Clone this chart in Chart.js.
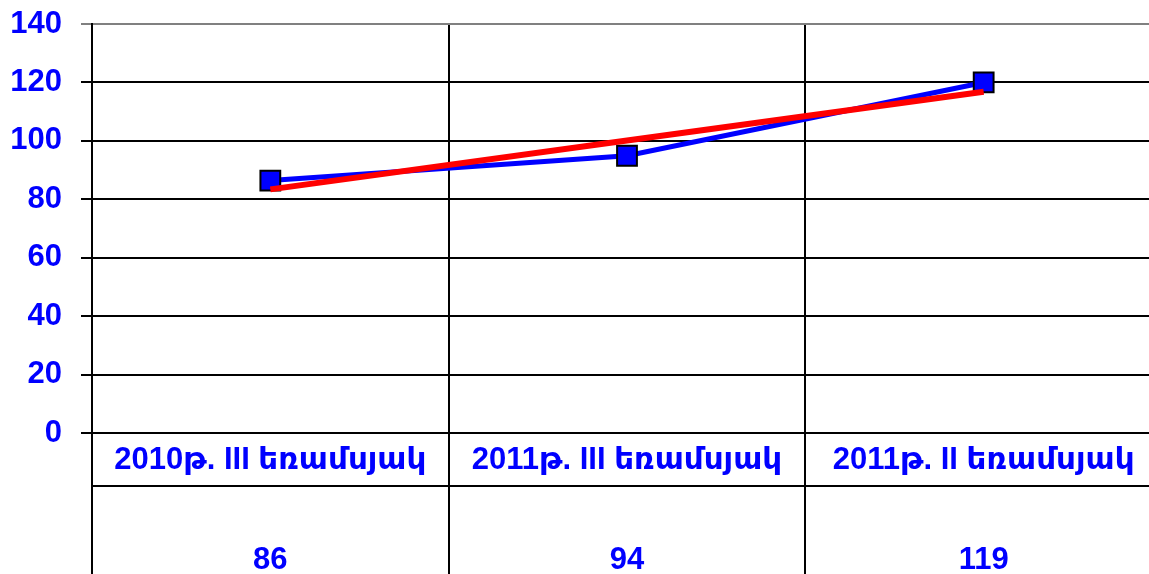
<!DOCTYPE html>
<html>
<head>
<meta charset="utf-8">
<script src="https://cdn.jsdelivr.net/npm/chart.js@4"></script>
<style>
  html, body { margin: 0; padding: 0; overflow: hidden; background: #fff; }
  canvas { display: block; }
</style>
</head>
<body>
<!-- the plot in the original runs a little past the right edge of the picture -->
<canvas id="quarterChart" width="1163" height="574"></canvas>
<script>
// data
const categories = ["2010թ. III եռամսյակ", "2011թ. III եռամսյակ", "2011թ. II եռամսյակ"];
const tableValues = ["86", "94", "119"];
const seriesValues = [86.4, 94.9, 120];
const trendValues = [83.4, 100.1, 116.8];
const yTicks = [0, 20, 40, 60, 80, 100, 120, 140];

const FONT = "'Liberation Sans', Arial, 'DejaVu Sans', sans-serif";

// line under the category row of the data table
const tableLines = {
    id: "tableLines",
    afterDraw(chart) {
        const { ctx, chartArea } = chart;
        const y = chartArea.bottom + 53;
        ctx.save();
        ctx.strokeStyle = "#000";
        ctx.lineWidth = 2;
        ctx.beginPath();
        ctx.moveTo(chartArea.left, y);
        ctx.lineTo(chartArea.right, y);
        ctx.stroke();
        ctx.restore();
    }
};

document.addEventListener("DOMContentLoaded", () => {
    const ctx = document.getElementById("quarterChart");
    new Chart(ctx, {
        type: "line",
        data: {
            labels: categories.map((c, i) => [c, "", tableValues[i]]),
            datasets: [{
                label: "trend",
                data: trendValues,
                borderColor: "#FF0000",
                borderWidth: 6,
                pointRadius: 0,
                tension: 0,
                order: 0
            }, {
                label: "series",
                data: seriesValues,
                borderColor: "#0000FF",
                borderWidth: 5,
                pointStyle: "rect",
                pointRadius: 14,
                pointBackgroundColor: "#0000FF",
                pointBorderColor: "#000",
                pointBorderWidth: 2,
                tension: 0,
                order: 1
            }]
        },
        options: {
            responsive: false,
            animation: false,
            layout: { autoPadding: false, padding: { top: 24, right: 1, left: 0, bottom: 0 } },
            plugins: { legend: { display: false }, tooltip: { enabled: false } },
            scales: {
                x: {
                    offset: true,
                    grid: {
                        offset: true,
                        color: "#000",
                        lineWidth: 2,
                        tickLength: 145
                    },
                    border: { color: "#000", width: 2 },
                    ticks: {
                        autoSkip: false,
                        maxRotation: 0,
                        padding: -143,
                        color: "#0000FF",
                        font: { family: FONT, size: 31, weight: "bold", lineHeight: "50px" }
                    },
                    afterFit(scale) {
                        scale.height = 141;
                        scale.paddingLeft = 0;
                        scale.paddingRight = 0;
                    }
                },
                y: {
                    min: 0,
                    max: 140,
                    afterBuildTicks(scale) {
                        scale.ticks = yTicks.map(v => ({ value: v }));
                    },
                    grid: {
                        color: c => (c.tick && c.tick.value === 140 ? "#808080" : "#000"),
                        lineWidth: 2,
                        tickLength: 11
                    },
                    border: { color: "#000", width: 2 },
                    ticks: {
                        padding: 19,
                        color: "#0000FF",
                        font: { family: FONT, size: 31, weight: "bold" }
                    },
                    afterFit(scale) {
                        scale.width = 92;
                        scale.paddingTop = 0;
                        scale.paddingBottom = 0;
                    }
                }
            }
        },
        plugins: [tableLines]
    });
});
</script>
</body>
</html>
